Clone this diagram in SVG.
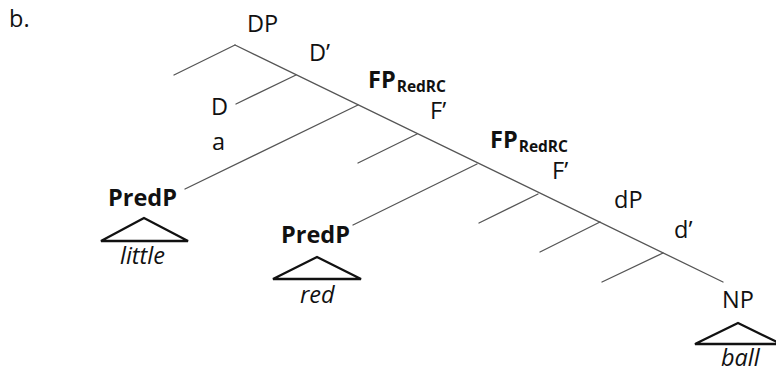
<svg xmlns="http://www.w3.org/2000/svg" width="776" height="373" viewBox="0 0 776 373">
  <style>
    .lbl { font-family: "Open Sans", "Noto Sans", sans-serif; font-size: 23.5px; fill: #111; }
    .b { font-weight: bold; }
    .it { font-style: italic; }
    .sub { font-size: 15.5px; font-weight: bold; }
    .edge { stroke: #555; stroke-width: 1.3; fill: none; stroke-linecap: round; }
    .tri { stroke: #111; stroke-width: 2.3; fill: none; stroke-linejoin: miter; }
  </style>
  <rect width="776" height="373" fill="#fff"/>

  <text class="lbl" x="9" y="27">b.</text>

  <!-- tree branches -->
  <g id="connectors">
    <line class="edge" x1="235" y1="45" x2="723" y2="282"/>
    <line class="edge" x1="235" y1="45" x2="174" y2="75"/>
    <line class="edge" x1="296" y1="75" x2="236" y2="104"/>
    <line class="edge" x1="358" y1="105" x2="185" y2="189"/>
    <line class="edge" x1="417" y1="134" x2="358" y2="163"/>
    <line class="edge" x1="477" y1="164" x2="353" y2="225"/>
    <line class="edge" x1="538" y1="194" x2="479" y2="223"/>
    <line class="edge" x1="600" y1="222" x2="540" y2="252"/>
    <line class="edge" x1="663" y1="253" x2="602" y2="282"/>
  </g>

  <g id="dp"><text class="lbl" x="247" y="32">DP</text></g>
  <g id="d-bar"><text class="lbl" x="309" y="61">D’</text></g>
  <g id="d-head"><text class="lbl" x="211" y="115">D</text></g>
  <g id="a"><text class="lbl" x="212" y="150">a</text></g>
  <g id="fp1"><text class="lbl b" x="368" y="88">FP<tspan class="sub" dy="4" dx="1">RedRC</tspan></text></g>
  <g id="f-bar1"><text class="lbl" x="430" y="119">F’</text></g>
  <g id="fp2"><text class="lbl b" x="490" y="148">FP<tspan class="sub" dy="4" dx="1">RedRC</tspan></text></g>
  <g id="f-bar2"><text class="lbl" x="552" y="179">F’</text></g>
  <g id="dp-small"><text class="lbl" x="614" y="208">dP</text></g>
  <g id="d-small-bar"><text class="lbl" x="674" y="238">d’</text></g>

  <g id="predp1">
    <text class="lbl b" x="108" y="206">PredP</text>
    <polygon class="tri" points="144,218 101,241 188,241"/>
    <text class="lbl it" x="120" y="264">little</text>
  </g>
  <g id="predp2">
    <text class="lbl b" x="281" y="243">PredP</text>
    <polygon class="tri" points="317,257 273,279 361,279"/>
    <text class="lbl it" x="300" y="303">red</text>
  </g>
  <g id="np">
    <text class="lbl" x="722" y="308">NP</text>
    <polygon class="tri" points="738,323 695,344 781,344"/>
    <text class="lbl it" x="721" y="366">ball</text>
  </g>
</svg>
